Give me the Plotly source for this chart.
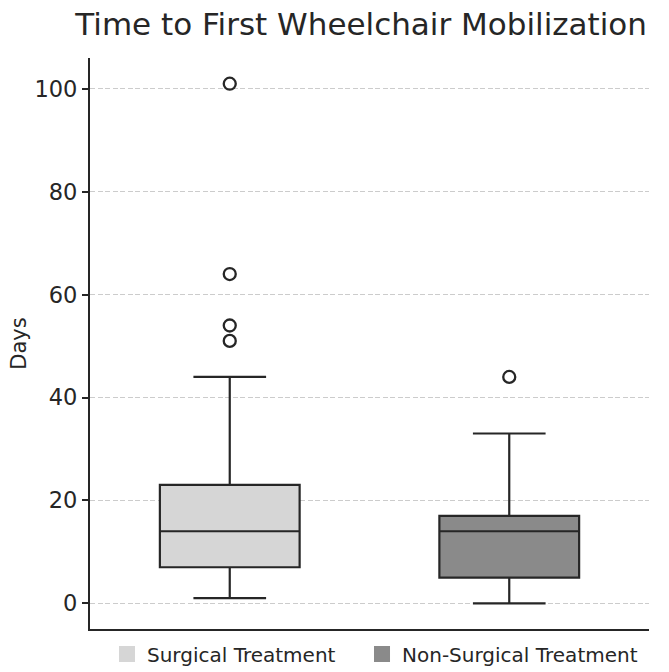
import plotly.graph_objects as go

groups = ["Surgical Treatment", "Non-Surgical Treatment"]
positions = [0, 1]
q1 = [7, 5]
median = [14, 14]
q3 = [23, 17]
lower = [1, 0]
upper = [44, 33]
outliers = [[51, 54, 64, 101], [44]]
fills = ["#d6d6d6", "#8a8a8a"]
legend_ids = ["legend", "legend2"]
legend_x = [0.0304, 0.4866]

LINE = "#262626"
TEXT = "#262626"
FONT = "DejaVu Sans"

fig = go.Figure()
for i, g in enumerate(groups):
    fig.add_trace(go.Box(
        x=[positions[i]], q1=[q1[i]], median=[median[i]], q3=[q3[i]],
        lowerfence=[lower[i]], upperfence=[upper[i]],
        width=0.5, whiskerwidth=0.52, boxpoints=False,
        fillcolor=fills[i], line=dict(color=LINE, width=2.2),
        showlegend=False, hoverinfo="skip", name=g,
    ))
    fig.add_trace(go.Scatter(
        x=[positions[i]] * len(outliers[i]), y=outliers[i], mode="markers",
        marker=dict(symbol="circle-open", size=12, color=LINE, line=dict(width=2.3, color=LINE)),
        showlegend=False, hoverinfo="skip",
    ))
    fig.add_trace(go.Scatter(
        x=[None], y=[None], mode="markers", name=g,
        marker=dict(symbol="square", size=17, color=fills[i]),
        showlegend=True, legend=legend_ids[i],
    ))

legend_common = dict(orientation="h", xanchor="left", xref="paper",
                     y=18 / 672, yanchor="middle", yref="container",
                     font=dict(size=20, color=TEXT), itemsizing="trace", tracegroupgap=0,
                     bgcolor="rgba(0,0,0,0)")

fig.update_layout(
    width=669, height=672,
    margin=dict(l=90, r=20, t=58, b=43),
    paper_bgcolor="white", plot_bgcolor="white",
    font=dict(family=FONT, color=TEXT),
    title=dict(text="Time to First Wheelchair Mobilization", font=dict(size=31, color=TEXT),
               xref="paper", x=0.485, xanchor="center", yref="container", y=1 - 24 / 672, yanchor="middle"),
    xaxis=dict(range=[-0.5, 1.5], showticklabels=False, ticks="", showgrid=False, zeroline=False,
               showline=True, linecolor=LINE, linewidth=2.2, automargin=False),
    yaxis=dict(range=[-5, 106], tickvals=[0, 20, 40, 60, 80, 100], ticks="outside", ticklen=6,
               tickwidth=1.6, tickcolor=LINE, tickfont=dict(size=22.5, color=TEXT),
               showgrid=True, gridcolor="#cccccc", griddash="5px,2.5px", gridwidth=1, zeroline=False,
               showline=True, linecolor=LINE, linewidth=2.2, automargin=False,
               title=dict(text="Days", font=dict(size=21, color=TEXT), standoff=2)),
    legend=dict(x=legend_x[0], **legend_common),
    legend2=dict(x=legend_x[1], **legend_common),
    showlegend=True,
)

fig.write_html("out.html", config={"displayModeBar": False},
               post_script="document.body.style.margin='0';document.body.style.padding='0';")
